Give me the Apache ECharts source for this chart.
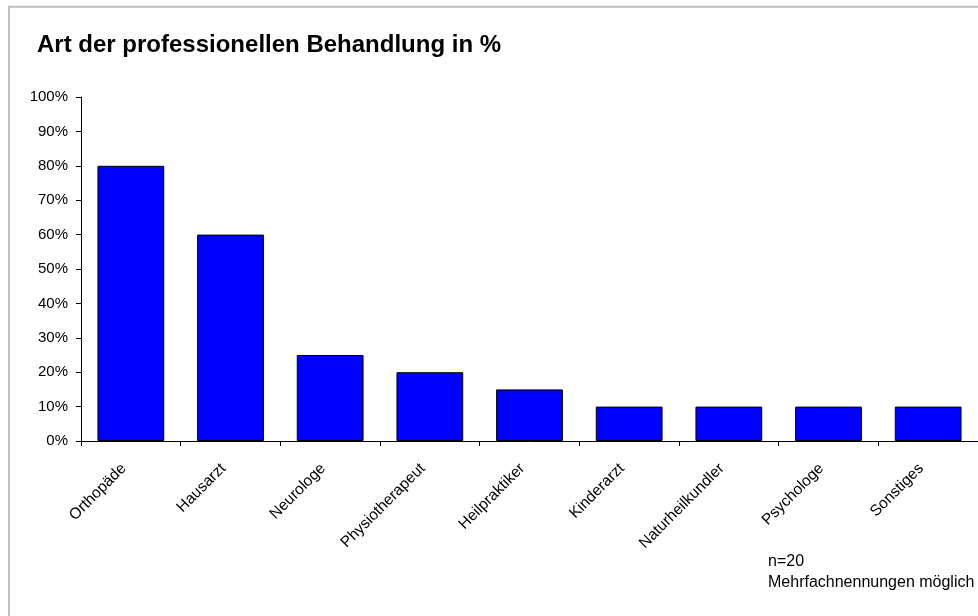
<!DOCTYPE html>
<html>
<head>
<meta charset="utf-8">
<script src="https://cdn.jsdelivr.net/npm/echarts@6/dist/echarts.min.js"></script>
<style>
html,body{margin:0;padding:0;background:#fff;}
#chart{width:978px;height:616px;}
</style>
</head>
<body>
<div id="chart"></div>
<script>
const titleText = 'Art der professionellen Behandlung in %';
const categories = ['Orthopäde','Hausarzt','Neurologe','Physiotherapeut','Heilpraktiker','Kinderarzt','Naturheilkundler','Psychologe','Sonstiges'];
const values = [80, 60, 25, 20, 15, 10, 10, 10, 10];
const noteLines = ['n=20', 'Mehrfachnennungen möglich'];

const FONT = '"Liberation Sans", Arial, sans-serif';
const chart = echarts.init(document.getElementById('chart'), null, {renderer: 'canvas'});
chart.setOption({
  animation: false,
  backgroundColor: '#ffffff',
  textStyle: {fontFamily: FONT},
  title: {
    text: titleText,
    left: 37, top: 33, padding: 0,
    textStyle: {fontFamily: FONT, fontSize: 24, fontWeight: 'bold', color: '#000'}
  },
  grid: {left: 81, right: 0, top: 97, bottom: 175, containLabel: false},
  xAxis: {
    type: 'category',
    data: categories,
    boundaryGap: true,
    axisLine: {lineStyle: {color: '#000', width: 1}},
    axisTick: {show: true, length: 5, alignWithLabel: false, lineStyle: {color: '#000'}},
    axisLabel: {rotate: 45, interval: 0, margin: 18, padding: [0, 10, 0, 0], fontSize: 15.5, color: '#000', fontFamily: FONT}
  },
  yAxis: {
    type: 'value',
    min: 0, max: 100, interval: 10,
    axisLine: {show: true, lineStyle: {color: '#000', width: 1}},
    axisTick: {show: true, length: 5, lineStyle: {color: '#000'}},
    splitLine: {show: false},
    axisLabel: {formatter: '{value}%', fontSize: 15, color: '#000', margin: 13, fontFamily: FONT}
  },
  series: [{
    type: 'bar',
    data: values,
    barCategoryGap: '33%',
    itemStyle: {color: '#0000ff', borderColor: '#000', borderWidth: 1}
  }],
  graphic: [
    {type: 'rect', shape: {x: 9, y: 6.7, width: 1100, height: 800}, style: {fill: 'none', stroke: '#bfbfbf', lineWidth: 2}, silent: true},
    {type: 'text', left: 768, top: 551, style: {text: noteLines.join('\n'), font: '16px ' + FONT, fill: '#000', lineHeight: 21}}
  ]
});
</script>
</body>
</html>
